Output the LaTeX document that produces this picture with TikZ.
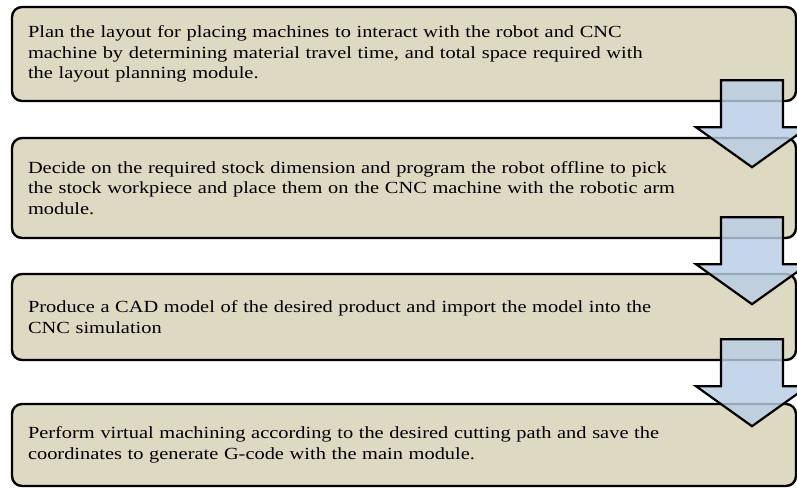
\documentclass[tikz,border=0pt]{standalone}
\usepackage{fontspec}
\usepackage{tikz}
\usetikzlibrary{calc}
\newfontfamily\stepfont[FakeStretch=1.2]{Liberation Serif}
\definecolor{tan}{HTML}{DDD9C3}
\definecolor{paleblue}{HTML}{B9CDE5}

\newcommand{\stepdown}[2]{%
  \coordinate (#1top) at ($(752,0 |- #1.south)+(0,-22)$);
  \draw[downarrow] (#1top) ++(-31,0) -- ++(0,47) -- ++(-25,0) -- ++(56,40)
    -- ++(56,-40) -- ++(-25,0) -- ++(0,-47) -- cycle;}

\begin{document}
\begin{tikzpicture}[x=1pt,y=-1pt,
  stepbox/.style={draw=black,fill=tan,line width=2.4pt,rounded corners=10pt,
    text width=752pt,inner xsep=16pt,align=left,
    font=\stepfont\fontsize{17}{20.5}\selectfont},
  downarrow/.style={draw=black,line width=2.2pt,fill=paleblue,fill opacity=0.82,line join=miter}]
  \useasboundingbox (0,0) rectangle (797,488);
  \clip (0,0) rectangle (797,488);
  \node[stepbox,minimum height=94pt] (layout) at (404,54) {Plan the layout for placing machines to interact with the robot and CNC\\machine by determining material travel time, and total space required with\\the layout planning module.};
  \node[stepbox,minimum height=100pt] (robot) at (404,188) {Decide on the required stock dimension and program the robot offline to pick\\the stock workpiece and place them on the CNC machine with the robotic arm\\module.};
  \node[stepbox,minimum height=86pt] (cad) at (404,317) {Produce a CAD model of the desired product and import the model into the\\CNC simulation};
  \node[stepbox,minimum height=82pt] (machining) at (404,445) {Perform virtual machining according to the desired cutting path and save the\\coordinates to generate G-code with the main module.};
  \stepdown{layout}{robot}
  \stepdown{robot}{cad}
  \stepdown{cad}{machining}
\end{tikzpicture}
\end{document}
